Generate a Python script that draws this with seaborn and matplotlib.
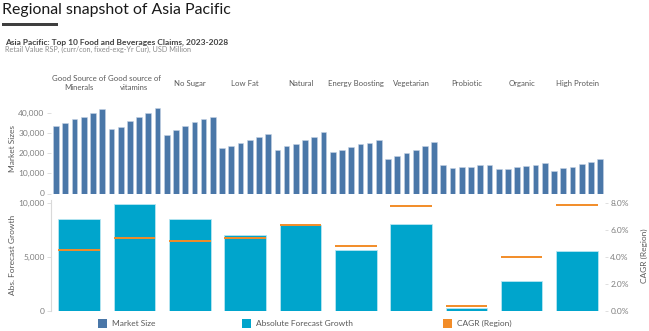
import numpy as np
import pandas as pd
import matplotlib
matplotlib.use("Agg")
import matplotlib.pyplot as plt
from matplotlib.patches import Rectangle
from matplotlib.ticker import FuncFormatter
import seaborn as sns

# ---- data -------------------------------------------------------------
claims = ["Good Source of\nMinerals", "Good source of\nvitamins", "No Sugar",
          "Low Fat", "Natural", "Energy Boosting", "Vegetarian", "Probiotic",
          "Organic", "High Protein"]
years = [2023, 2024, 2025, 2026, 2027, 2028]

# market size by year (USD million)
minerals = [33500, 34800, 36700, 38000, 40000, 41800]
vitamins = [32000, 33000, 35700, 37700, 40000, 42200]
no_sugar = [29000, 31200, 33500, 35200, 36700, 37800]
low_fat = [22300, 23700, 25000, 26700, 27800, 29500]
natural = [21700, 23300, 24700, 26300, 27800, 30200]
energy = [20500, 21700, 22800, 24500, 25000, 26300]
vegetarian = [17200, 18700, 20200, 21700, 23500, 25700]
probiotic = [14000, 12500, 13000, 13200, 14000, 14200]
organic = [12200, 12300, 13200, 13500, 14200, 15000]
high_protein = [11300, 12500, 13200, 14500, 15700, 17200]

abs_growth = [8560, 9940, 8560, 7000, 7940, 5660, 8060, 250, 2780, 5500]
cagr = [4.5, 5.4, 5.2, 5.4, 6.35, 4.8, 7.8, 0.35, 4.0, 7.85]  # percent

sizes = [minerals, vitamins, no_sugar, low_fat, natural, energy,
         vegetarian, probiotic, organic, high_protein]

# ---- styling ----------------------------------------------------------
sns.set_theme(style="white")
plt.rcParams["font.family"] = ["Lato", "DejaVu Sans"]

C_SIZE = "#4a77a8"
C_GROW = "#00a5cc"
C_CAGR = "#f28c28"
C_TXT = "#595959"
C_TICK = "#7f7f7f"
C_LINE = "#d9d9d9"

W, H = 649, 331
fig = plt.figure(figsize=(W / 100, H / 100), dpi=100)


def fx(px):
    return px / W


def fy(px):
    return 1 - px / H


# header
fig.text(fx(2), fy(10), "Regional snapshot of Asia Pacific", fontsize=11.4,
         color="#1a1a1a", va="center", ha="left")
fig.add_artist(Rectangle((fx(2), fy(26)), fx(56), 3 / H, transform=fig.transFigure,
                         color="#3f3f3f", lw=0))
fig.text(fx(5), fy(42), "Asia Pacific: Top 10 Food and Beverages Claims, 2023-2028",
         fontsize=6.05, fontweight="bold", color="#404040", va="center", ha="left")
fig.text(fx(5), fy(49.5), "Retail Value RSP, (curr/con, fixed-exg-Yr Cur), USD Million",
         fontsize=5.2, color="#8c8c8c", va="center", ha="left")

# ---- top panel: market size per claim and year -----------------------
left_px, right_px = 51.5, 604.7
top_df = pd.DataFrame(
    [(f"{i}-{y}", i, y, v) for i, vals in enumerate(sizes) for y, v in zip(years, vals)],
    columns=["key", "claim", "year", "size"],
)
ax1 = fig.add_axes([fx(left_px), fy(193.5), fx(right_px - left_px), (193.5 - 102.6) / H])
sns.barplot(data=top_df, x="key", y="size", order=list(top_df["key"]), color=C_SIZE,
            saturation=1, width=0.62, edgecolor="#c5d3e4", linewidth=0.4, ax=ax1)
ax1.set_xlim(-0.5, len(top_df) - 0.5)
ax1.set_ylim(0, 45000)
ax1.set_yticks([0, 10000, 20000, 30000, 40000])
ax1.yaxis.set_major_formatter(FuncFormatter(lambda v, p: f"{v:,.0f}"))
ax1.set_xticks([])
ax1.set_xlabel("")
ax1.set_ylabel("Market Sizes", fontsize=6, color=C_TXT, labelpad=2)
ax1.tick_params(axis="y", labelsize=6, labelcolor=C_TICK, color=C_LINE,
                length=3, width=0.6, left=True, pad=2)
for s in ax1.spines.values():
    s.set_visible(False)
for i, name in enumerate(claims):
    ax1.text(i * 6 + 2.5, 1.215, name, transform=ax1.get_xaxis_transform(),
             ha="center", va="center", fontsize=5.6, color=C_TXT, linespacing=1.45)

# ---- bottom panel: absolute growth and CAGR --------------------------
bot_df = pd.DataFrame({"claim": claims, "growth": abs_growth, "cagr": cagr})
ax2 = fig.add_axes([fx(left_px), fy(310.7), fx(right_px - left_px), (310.7 - 200) / H])
sns.barplot(data=bot_df, x="claim", y="growth", order=claims, color=C_GROW,
            saturation=1, width=0.75, edgecolor="#b8e6f2", linewidth=0.6, ax=ax2)
ax2.set_xlim(-0.5, len(claims) - 0.5)
ymax = 10280
ax2.set_ylim(0, ymax)
ax2.set_yticks([0, 5000, 10000])
ax2.yaxis.set_major_formatter(FuncFormatter(lambda v, p: f"{v:,.0f}"))
ax2.set_xticks([])
ax2.set_xlabel("")
ax2.set_ylabel("Abs. Forecast Growth", fontsize=6, color=C_TXT, labelpad=2)
ax2.tick_params(axis="y", labelsize=6, labelcolor=C_TICK, color=C_LINE,
                length=3, width=0.6, left=True, pad=2)
for k, s in ax2.spines.items():
    s.set_visible(k == "left")
ax2.spines["left"].set_color(C_LINE)
ax2.spines["left"].set_linewidth(0.8)

ax3 = ax2.twinx()
ax3.set_ylim(0, ymax * 0.0008)
xs = np.arange(len(claims))
ax3.hlines(bot_df["cagr"], xs - 0.375, xs + 0.375, color=C_CAGR, lw=1.4)
ax3.set_yticks([0, 2, 4, 6, 8])
ax3.yaxis.set_major_formatter(FuncFormatter(lambda v, p: f"{v:.1f}%"))
ax3.tick_params(axis="y", labelsize=6, labelcolor=C_TICK, color=C_LINE,
                length=2, width=0.6, right=True, pad=2)
ax3.set_ylabel("CAGR (Region)", fontsize=6, color=C_TXT, rotation=90, labelpad=9)
for s in ax3.spines.values():
    s.set_visible(False)

# ---- legend -------------------------------------------------------------
for sq_x, label, col in [(98, "Market Size", C_SIZE),
                         (242, "Absolute Forecast Growth", C_GROW),
                         (443, "CAGR (Region)", C_CAGR)]:
    fig.add_artist(Rectangle((fx(sq_x), fy(328)), fx(9), 9 / H,
                             transform=fig.transFigure, color=col, lw=0))
    fig.text(fx(sq_x + 14), fy(323.5), label, fontsize=6, color=C_TXT,
             va="center", ha="left")

fig.savefig("out.png", dpi=100)
